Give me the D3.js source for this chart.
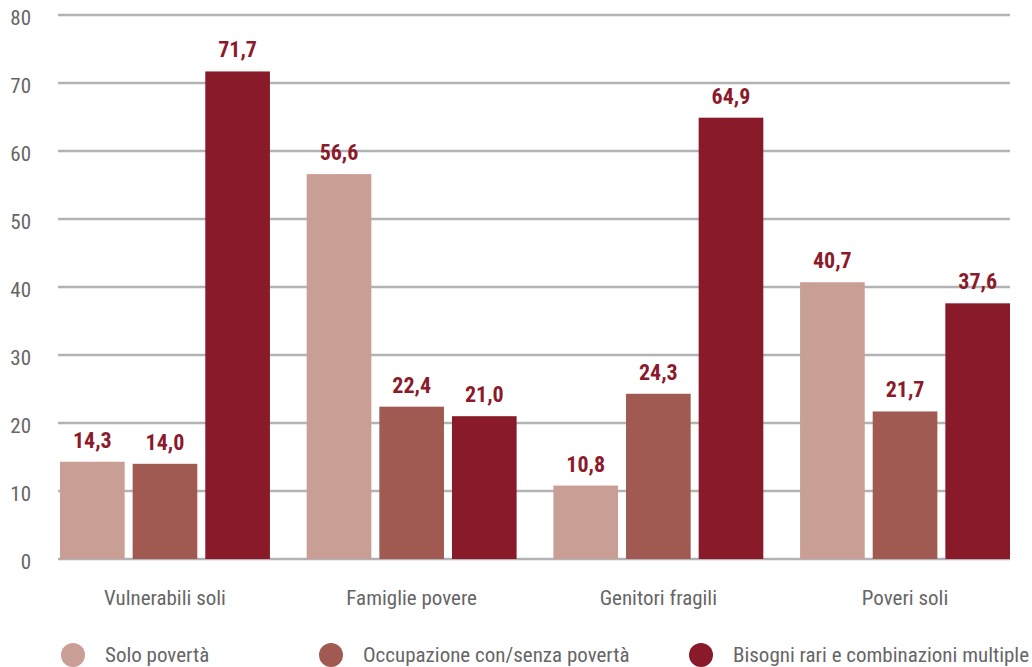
<!DOCTYPE html>
<meta charset="utf-8">
<script src="https://d3js.org/d3.v7.min.js"></script>
<style>
  body { margin: 0; background: #fff; }
  text { font-family: "Roboto Condensed", "Liberation Sans Narrow", Roboto, sans-serif; }
</style>
<div id="my_dataviz"></div>
<script>

// data
var categories = ["Vulnerabili soli", "Famiglie povere", "Genitori fragili", "Poveri soli"];
var seriesNames = ["Solo povertà", "Occupazione con/senza povertà", "Bisogni rari e combinazioni multiple"];
var soloPoverta = [14.3, 56.6, 10.8, 40.7];
var occupazione = [14.0, 22.4, 24.3, 21.7];
var bisogniRari = [71.7, 21.0, 64.9, 37.6];
var yTicks = [0, 10, 20, 30, 40, 50, 60, 70, 80];
var colors = ["#c99e95", "#a15a52", "#891a2a"];

var series = [soloPoverta, occupazione, bisogniRari];

var width = 1032, height = 667;

var svg = d3.select("#my_dataviz")
  .append("svg")
    .attr("width", width)
    .attr("height", height);

// scales
var y = d3.scaleLinear()
  .domain([0, 80])
  .range([559, 15]);

var x0 = d3.scaleBand()
  .domain(categories)
  .range([60, 1010])
  .paddingInner(0.149)
  .paddingOuter(0);

var x1 = d3.scaleBand()
  .domain(d3.range(seriesNames.length))
  .range([0, x0.bandwidth()])
  .paddingInner(0.11);

// gridlines
svg.append("g")
  .selectAll("line")
  .data(yTicks)
  .enter()
  .append("line")
    .attr("x1", 58)
    .attr("x2", 1010)
    .attr("y1", function(d) { return y(d); })
    .attr("y2", function(d) { return y(d); })
    .attr("stroke", "#b3b3b5")
    .attr("stroke-width", 2.5);

// y labels
svg.append("g")
  .selectAll("text")
  .data(yTicks)
  .enter()
  .append("text")
    .attr("x", 31)
    .attr("y", function(d) { return y(d) + 10; })
    .attr("text-anchor", "end")
    .attr("font-size", 21)
    .attr("fill", "#666")
    .text(function(d) { return d; });

// bars
var groups = svg.append("g")
  .selectAll("g")
  .data(categories)
  .enter()
  .append("g")
    .attr("transform", function(d) { return "translate(" + x0(d) + ",0)"; });

groups.selectAll("rect")
  .data(function(d, i) { return series.map(function(s, j) { return {k: j, v: s[i]}; }); })
  .enter()
  .append("rect")
    .attr("x", function(d) { return x1(d.k); })
    .attr("y", function(d) { return y(d.v); })
    .attr("width", x1.bandwidth())
    .attr("height", function(d) { return y(0) - y(d.v); })
    .attr("fill", function(d) { return colors[d.k]; });

groups.selectAll("text.val")
  .data(function(d, i) { return series.map(function(s, j) { return {k: j, v: s[i]}; }); })
  .enter()
  .append("text")
    .attr("class", "val")
    .attr("x", function(d) { return x1(d.k) + x1.bandwidth() / 2; })
    .attr("y", function(d) { return y(d.v) - 14; })
    .attr("text-anchor", "middle")
    .attr("font-size", 22)
    .attr("font-weight", "bold")
    .attr("fill", "#8b1a2b")
    .text(function(d) { return d.v.toFixed(1).replace(".", ","); });

// category labels
svg.append("g")
  .selectAll("text")
  .data(categories)
  .enter()
  .append("text")
    .attr("x", function(d) { return x0(d) + x0.bandwidth() / 2; })
    .attr("y", 605)
    .attr("text-anchor", "middle")
    .attr("font-size", 21)
    .attr("fill", "#666")
    .text(function(d) { return d; });

// legend
var legendX = [73, 331, 701];
var legend = svg.append("g")
  .selectAll("g")
  .data(seriesNames)
  .enter()
  .append("g")
    .attr("transform", function(d, i) { return "translate(" + legendX[i] + ",655)"; });

legend.append("circle")
  .attr("r", 12)
  .attr("fill", function(d, i) { return colors[i]; });

legend.append("text")
  .attr("x", 32)
  .attr("y", 7)
  .attr("font-size", 21)
  .attr("fill", "#666")
  .text(function(d) { return d; });

</script>
